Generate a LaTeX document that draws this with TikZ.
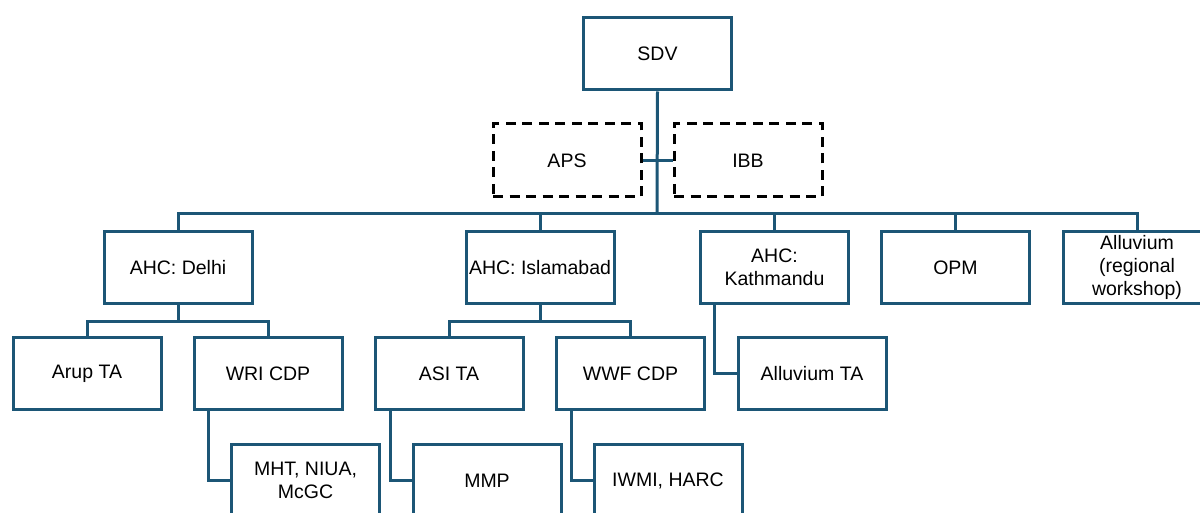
\documentclass[tikz,border=0pt]{standalone}
\usepackage{fontspec}
\setmainfont{Liberation Sans}
\definecolor{orgline}{RGB}{28,86,118}
\begin{document}
\begin{tikzpicture}[x=1pt, y=-1pt, every node/.style={font=\fontsize{19.5}{23}\selectfont, align=center},
    unit/.style={draw=orgline, line width=3pt, minimum width=148pt, minimum height=72pt, inner sep=0pt},
    partner/.style={draw=black, line width=3pt, dash pattern=on 10pt off 6.5pt, minimum width=148pt, minimum height=73pt, inner sep=0pt},
    link/.style={draw=orgline, line width=3pt}]
    \useasboundingbox (0,0) rectangle (1200,513);
    \node[unit] (sdv) at (657.5,54) {SDV};
    \node[partner] (aps) at (567,160.5) {APS};
    \node[partner] (ibb) at (748,160.5) {IBB};
    \coordinate (bus) at (657,214);
    \node[unit] (delhi) at (178,267.5) {AHC: Delhi};
    \node[unit] (isl) at (540,267.5) {AHC: Islamabad};
    \node[unit] (kat) at (774.5,267.5) {AHC:\\Kathmandu};
    \node[unit] (opm) at (955.5,267.5) {OPM};
    \node[unit] (allu) at (1137,267.5) {Alluvium\\(regional\\workshop)};
    \node[unit] (arup) at (87,373.5) {Arup TA};
    \node[unit] (wri) at (268,373.5) {WRI CDP};
    \node[unit] (asi) at (449,373.5) {ASI TA};
    \node[unit] (wwf) at (630.5,373.5) {WWF CDP};
    \node[unit] (alluta) at (812,373.5) {Alluvium TA};
    \node[unit] (mht) at (305.5,480.5) {MHT, NIUA,\\McGC};
    \node[unit] (mmp) at (487,480.5) {MMP};
    \node[unit] (iwmi) at (668,480.5) {IWMI, HARC};
    \draw[link] (sdv.south) -- (bus);
    \draw[link] (aps.east) -- (ibb.west);
    \foreach \n in {delhi,isl,kat,opm,allu} \draw[link] (\n.north) |- (bus);
    \foreach \n in {arup,wri} \draw[link] (delhi.south) -- ++(0,16) -| (\n.north);
    \foreach \n in {asi,wwf} \draw[link] (isl.south) -- ++(0,16) -| (\n.north);
    \draw[link] ([xshift=-60pt]wri.south) |- (mht.west);
    \draw[link] ([xshift=-59pt]asi.south) |- (mmp.west);
    \draw[link] ([xshift=-59.5pt]wwf.south) |- (iwmi.west);
    \draw[link] ([xshift=-60pt]kat.south) |- (alluta.west);
\end{tikzpicture}
\end{document}
